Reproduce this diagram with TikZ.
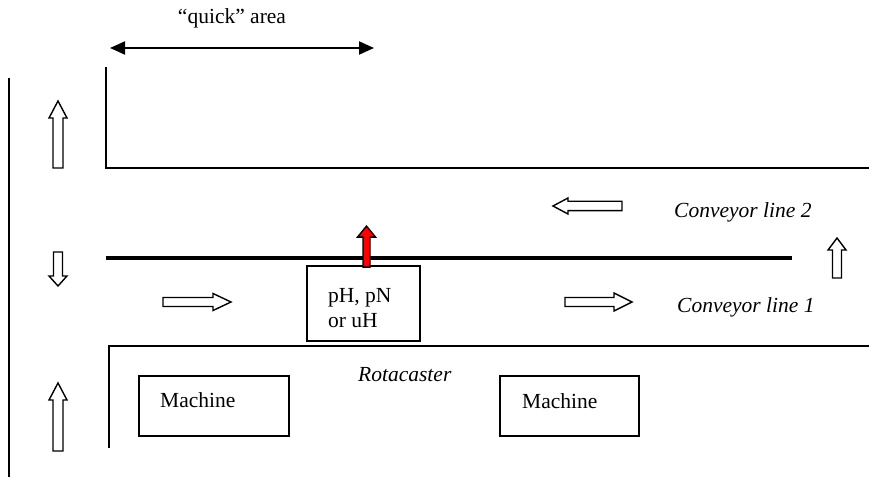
\documentclass[tikz,border=0pt]{standalone}
\usepackage{fontspec}
\setmainfont{Liberation Serif}
\usetikzlibrary{arrows.meta}
\tikzset{
  lbl/.style={anchor=base west, inner sep=0pt, font=\fontsize{21.5}{25}\selectfont},
  boxstyle/.style={draw, line width=1.8pt, inner sep=0pt},
  wall/.style={line width=1.8pt},
  thinwall/.style={line width=1.5pt},
  arrline/.style={line width=1.4pt, line join=miter},
  arrfill/.style={fill=white},
  % hollow block arrow along +x: length, shaft half-width, head half-width, head length
  pics/blockarrow/.style n args={4}{code={
    \draw[arrline, arrfill] (0,-#2) -- ({#1-#4},-#2) -- ({#1-#4},-#3) -- (#1,0)
      -- ({#1-#4},#3) -- ({#1-#4},#2) -- (0,#2) -- cycle;}},
}
\begin{document}
\begin{tikzpicture}[x=1pt,y=1pt]
\useasboundingbox (0,0) rectangle (869,477);

% hall walls and conveyor divider
\draw[thinwall] (9,399) -- (9,0);
\draw[wall] (106,410) -- (106,309) -- (869,309);
\draw[line width=4pt] (106,219) -- (792,219);
\draw[thinwall] (109,29) -- (109,131) -- (869,131);

% extent of the quick area
\coordinate (qa) at (110,429);
\coordinate (qb) at (374,429);
\draw[line width=2pt, {Triangle[length=15pt,width=13pt]}-{Triangle[length=15pt,width=13pt]}] (qa) -- (qb);
\node[anchor=base, inner sep=0pt, font=\fontsize{21.5}{25}\selectfont] (qlabel) at (232,453) {“quick” area};

% station and machines
\node[boxstyle, minimum width=113pt, minimum height=75pt] (ph) at (363.5,173.5) {};
\node[boxstyle, minimum width=150pt, minimum height=60pt] (m1) at (214,71) {};
\node[boxstyle, minimum width=139pt, minimum height=60pt] (m2) at (569.5,71) {};

\node[lbl] (ph1) at (328,175) {pH, pN};
\node[lbl] (ph2) at (328,150) {or uH};
\node[lbl] (m1t) at (160,70) {Machine};
\node[lbl] (m2t) at (522,69) {Machine};
\node[lbl] (rot) at (358,96) {\itshape Rotacaster};
\node[lbl] (cl2) at (674,259) {\itshape Conveyor line 2};
\node[lbl] (cl1) at (677,165) {\itshape Conveyor line 1};

% flow directions
\pic[rotate=90]  at (58,309) {blockarrow={67}{5}{9}{17}};
\pic[rotate=-90] at (58,225) {blockarrow={34}{4.5}{9}{10}};
\pic             at (163,175) {blockarrow={68}{4.5}{8.5}{18}};
\pic[rotate=90]  at (58,26) {blockarrow={68}{5}{9}{17}};
\pic[rotate=180] at (622,271) {blockarrow={69}{4.7}{8}{15}};
\pic[rotate=90]  at (837,199) {blockarrow={40}{4.5}{9}{12}};
\pic             at (565,175) {blockarrow={67}{4.5}{9}{18}};

% transfer from line 1 to line 2
\pic[rotate=90, arrfill/.style={fill=red}] at ([xshift=3pt,yshift=-2pt]ph.north) {blockarrow={41}{3.5}{9}{11}};
\end{tikzpicture}
\end{document}
